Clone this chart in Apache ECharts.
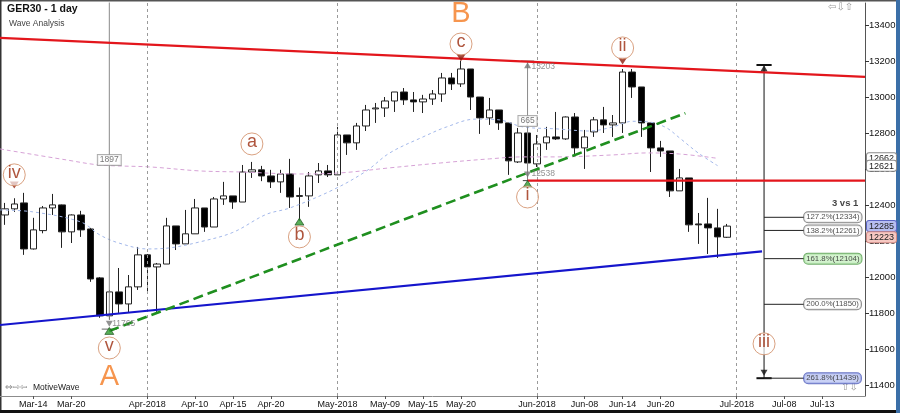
<!DOCTYPE html>
<html><head><meta charset="utf-8">
<script src="https://cdn.jsdelivr.net/npm/echarts@6/dist/echarts.min.js"></script>
<style>html,body{margin:0;padding:0;background:#fff}#c{width:900px;height:413px}</style>
</head><body><div id="c"></div>
<script>
// ---------- categories (trading days) ----------
const dates = ['03-09','03-12','03-13','03-14','03-15','03-16','03-19','03-20','03-21','03-22','03-23','03-26','03-27','03-28','03-29',
'04-03','04-04','04-05','04-06','04-09','04-10','04-11','04-12','04-13','04-16','04-17','04-18','04-19','04-20','04-23','04-24','04-25','04-26','04-27','04-30',
'05-02','05-03','05-04','05-07','05-08','05-09','05-10','05-11','05-14','05-15','05-16','05-17','05-18','05-22','05-23','05-24','05-25','05-28','05-29','05-30','05-31',
'06-01','06-04','06-05','06-06','06-07','06-08','06-11','06-12','06-13','06-14','06-15','06-18','06-19','06-20','06-21','06-22','06-25','06-26','06-27','06-28','06-29',
'07-02','07-03','07-04','07-05','07-06','07-09','07-10','07-11','07-12','07-13','07-16','07-17','07-18','07-19'];
const tickDates = ['03-14','03-20','04-03','04-10','04-16','04-20','05-02','05-09','05-15','05-22','06-01','06-08','06-14','06-20','07-02','07-09','07-13'];
const tickTexts = ['Mar-14','Mar-20','Apr-2018','Apr-10','Apr-15','Apr-20','May-2018','May-09','May-15','May-20','Jun-2018','Jun-08','Jun-14','Jun-20','Jul-2018','Jul-08','Jul-13'];
const monthStartIdx = [15, 35, 56, 77];

// ---------- OHLC ----------
const opens = [12347,12381,12414,12158,12260,12386,12403,12253,12347,12269,11997,11786,11919,11852,11947,12125,12058,12074,12286,12186,12242,12386,12280,12436,12453,12419,12586,12598,12564,12531,12575,12450,12453,12570,12592,12570,12792,12748,12842,12937,12942,12981,13031,12987,12976,12992,13020,13109,13076,13159,13003,12887,12931,12859,12642,12803,12631,12748,12781,12770,12892,12720,12809,12876,12848,12859,13142,13059,12859,12720,12703,12481,12553,12297,12297,12275,12223];
const closes = [12381,12408,12158,12264,12386,12403,12253,12347,12264,11991,11786,11919,11852,11947,12125,12058,12074,12286,12186,12242,12386,12280,12436,12453,12419,12586,12598,12564,12531,12575,12447,12455,12564,12592,12570,12792,12748,12842,12931,12942,12981,13031,12987,12976,12992,13020,13109,13076,13159,13003,12887,12931,12859,12648,12803,12636,12742,12781,12770,12892,12720,12781,12876,12848,12859,13142,13059,12859,12720,12703,12481,12553,12292,12292,12275,12225,12285];
const lows = [12292,12364,12125,12155,12245,12347,12164,12191,12225,11975,11775,11765,11802,11802,11930,11913,11808,12074,12152,12186,12242,12253,12280,12403,12381,12419,12553,12535,12497,12470,12386,12315,12392,12525,12558,12570,12681,12709,12814,12859,12892,12920,12959,12920,12914,12959,12976,13042,13059,12931,12798,12848,12820,12570,12636,12538,12614,12709,12764,12765,12670,12603,12781,12803,12781,12803,12998,12781,12586,12670,12447,12481,12253,12186,12130,12108,12219];
const highs = [12414,12440,12470,12331,12397,12464,12405,12350,12370,12275,12002,11930,12052,12013,12169,12130,12080,12331,12286,12375,12436,12386,12447,12531,12453,12625,12642,12620,12598,12598,12659,12500,12586,12636,12625,12837,12792,12859,12959,12970,13003,13031,13053,13031,13015,13042,13137,13137,13205,13159,13003,12998,12931,12859,12831,12831,12792,12837,12920,12895,12914,12820,12892,12948,12903,13159,13159,13059,12859,12759,12703,12603,12553,12358,12442,12381,12297];

// ---------- moving averages (read points) ----------
const maBlueX = [-0.5,3,8,10,12,15,17.5,20.5,24,27.5,30,34.5,38,40.5,44,46.5,49.5,52,54.5,58,61.5,64,66,67.5,69.5,71,73,75];
const maBlueV = [12375,12364,12308,12236,12191,12158,12165,12197,12250,12350,12386,12486,12590,12692,12781,12837,12880,12876,12837,12826,12814,12837,12868,12866,12835,12775,12690,12621];
const maPinkX = [-0.5,6.5,10,15.3,20.5,24.8,31,35.3,40.5,45.8,51,54.5,58,64,67.5,71,75];
const maPinkV = [12714,12653,12625,12614,12592,12586,12575,12581,12609,12636,12659,12670,12670,12681,12692,12686,12662];

// ---------- axis ticks / tags ----------
const yTicks = [11400,11600,11800,12000,12200,12400,12600,12800,13000,13200,13400];
const tagValues = [12662,12621,12285,12223];
const tagKinds  = ['w','w','b','p'];

// ---------- trendlines ----------
const redTop = [[-0.5,13332],[90.5,13115]];
const redFlat = [[55,12538],[90.5,12538]];
const blueLine = [[-0.5,11735],[79.67,12144]];
const greenLine = [[11,11702],[71.6,12913]];

// ---------- waves ----------
const waveText = ['iv','v','a','b','c','i','ii','iii'];
const waveIdx  = [1,11,26,31,48,55,65,79.88];
const waveVal  = [12570,11607,12742,12225,13298,12447,13276,11630];
const bigText = ['A','B'];
const bigIdx = [11,48];
const bigVal = [11446,13465];
const downMarkIdx = [1,48,65];
const downMarkVal = [12514,13222,13204];
const upMarkIdx = [11,31,55];
const upMarkVal = [11702,12310,12519];

// ---------- measures ----------
const m1Idx = 11, m1Low = 11765, m1Len = 1897;
const m2Idx = 55, m2Low = 12538, m2High = 13203;
const fibIdx = 79.88, fibTop = 13181, fibBottom = 11439;
const fibPct = ['127.2%','138.2%','161.8%','200.0%','261.8%'];
const fibVal = [12334,12261,12104,11850,11439];
const fibBoxIdx = 84.1;

const FONT = "'Liberation Sans', Arial, sans-serif";
const Y_MIN = 11340, Y_MAX = 13526;

function seg(pts, color, width, type, z) {
  return {type:'line', xAxisIndex:1, yAxisIndex:0, data:pts, symbol:'none', silent:true,
    animation:false, lineStyle:{color:color, width:width, type:type||'solid', cap:'butt'}, z:z||4};
}

const series = [];
series.push({
  type:'candlestick', xAxisIndex:0, yAxisIndex:0, barWidth:7, z:2, animation:false,
  data: opens.map((o,i)=>[o, closes[i], lows[i], highs[i]]),
  itemStyle:{color:'#ffffff', color0:'#000000', borderColor:'#222', borderColor0:'#222', borderWidth:1}
});
series.push(Object.assign(seg(maBlueX.map((x,i)=>[x,maBlueV[i]]), '#a3b8ea', 1, [3,3], 3), {smooth:0.35}));
series.push(Object.assign(seg(maPinkX.map((x,i)=>[x,maPinkV[i]]), '#d6a2d6', 1, [4,3], 3), {smooth:0.35}));

const month = seg(redTop, '#e3161c', 2.2, 'solid', 5);
month.markLine = {symbol:'none', silent:true, animation:false, label:{show:false},
  lineStyle:{type:[3,3], color:'#9a9a9a', width:1}, data: monthStartIdx.map(i=>({xAxis:i}))};
series.push(month);
series.push(seg(redFlat, '#e3161c', 2.2, 'solid', 5));
series.push(seg(blueLine, '#1515cc', 2.2, 'solid', 5));
series.push(seg(greenLine, '#1f8f1f', 2.6, [10,5], 5));

// measure 1
series.push(seg([[m1Idx, m1Low], [m1Idx, m1Low + m1Len]], '#8a8a8a', 1, 'solid', 3));
series.push(seg([[m1Idx-0.8, 11712], [m1Idx+0.8, 11712]], '#666', 1, 'solid', 4));
// measure 2
series.push(seg([[m2Idx, m2Low], [m2Idx, m2High]], '#8a8a8a', 1, 'solid', 3));
series.push(seg([[m2Idx-0.7, m2High], [m2Idx+0.7, m2High]], '#666', 1, 'solid', 4));
series.push(seg([[m2Idx-0.5, m2Low], [m2Idx+0.5, m2Low]], '#444', 1, 'solid', 4));
// fib measure
series.push(seg([[fibIdx, fibBottom], [fibIdx, fibTop]], '#111', 1, 'solid', 4));
series.push(seg([[fibIdx-0.8, fibTop], [fibIdx+0.8, fibTop]], '#111', 2, 'solid', 4));
series.push(seg([[fibIdx-0.8, fibBottom], [fibIdx+0.8, fibBottom]], '#111', 2, 'solid', 4));
fibVal.forEach(v => series.push(seg([[fibIdx, v], [fibBoxIdx, v]], '#222', 1, 'solid', 4)));

// fib boxes
const fibStyles = {
  '161.8%': {bg:'#c8f0c2', bd:'#4f9a46'},
  '261.8%': {bg:'#bcc6f2', bd:'#4250b5'}
};
series.push({
  type:'scatter', xAxisIndex:1, yAxisIndex:0, symbolSize:0, silent:true, animation:false, z:6,
  data: fibVal.map((v,i)=>{
    const st = fibStyles[fibPct[i]] || {bg:'#ffffff', bd:'#666'};
    return {value:[fibBoxIdx, v], label:{backgroundColor:st.bg, borderColor:st.bd}, name: fibPct[i] + '(' + v + ')'};
  }),
  label:{show:true, position:'right', distance:0, formatter:p=>p.name, fontFamily:FONT, fontSize:7.8,
    color:'#222', borderWidth:1, borderRadius:4, padding:[1,2,1,2]}
});

// small gray texts
series.push({
  type:'scatter', xAxisIndex:1, yAxisIndex:0, symbolSize:0, silent:true, animation:false, z:6,
  data:[{value:[m1Idx+0.2, 11741], name:String(m1Low)},
        {value:[m2Idx+0.3, 13170], name:String(m2High)},
        {value:[m2Idx+0.3, 12578], name:String(m2Low)}],
  label:{show:true, position:'right', distance:1, formatter:p=>p.name, fontFamily:FONT, fontSize:8.5, color:'#777'}
});
// boxed measure labels
series.push({
  type:'scatter', xAxisIndex:1, yAxisIndex:0, symbolSize:0, silent:true, animation:false, z:6,
  data:[{value:[m1Idx, 12653], name:String(m1Len)}, {value:[m2Idx, 12870], name:String(m2High - m2Low)}],
  label:{show:true, position:'inside', formatter:p=>p.name, fontFamily:FONT, fontSize:8.5, color:'#555',
    backgroundColor:'#fff', borderColor:'#999', borderWidth:1, padding:[1,2,0,2]}
});
// measure arrows
series.push({
  type:'scatter', xAxisIndex:1, yAxisIndex:0, symbol:'triangle', symbolSize:[7,6], silent:true, animation:false, z:6,
  data:[{value:[m1Idx, 11742], symbolRotate:180, itemStyle:{color:'#777'}},
        {value:[m2Idx, 13180], itemStyle:{color:'#777'}},
        {value:[m2Idx, 12572], symbolRotate:180, itemStyle:{color:'#777'}},
        {value:[fibIdx, 13163], itemStyle:{color:'#111'}},
        {value:[fibIdx, 11470], symbolRotate:180, itemStyle:{color:'#111'}}]
});
// wave markers
series.push({
  type:'scatter', xAxisIndex:1, yAxisIndex:0, symbol:'triangle', symbolSize:[9,7], symbolRotate:180, silent:true, animation:false, z:7,
  itemStyle:{color:'#8e1b0b'}, data: downMarkIdx.map((x,i)=>[x, downMarkVal[i]])
});
series.push({
  type:'scatter', xAxisIndex:1, yAxisIndex:0, symbol:'triangle', symbolSize:[9,7], silent:true, animation:false, z:7,
  itemStyle:{color:'#2e9a2e', borderColor:'#1a4a1a', borderWidth:0.8}, data: upMarkIdx.map((x,i)=>[x, upMarkVal[i]])
});
// wave circles
series.push({
  type:'scatter', xAxisIndex:1, yAxisIndex:0, symbol:'circle', symbolSize:22, silent:true, animation:false, z:7,
  itemStyle:{color:'rgba(255,255,255,0.85)', borderColor:'#cf8a62', borderWidth:1},
  data: waveIdx.map((x,i)=>({value:[x, waveVal[i]], name:waveText[i]})),
  label:{show:true, position:'inside', formatter:p=>p.name, fontFamily:FONT, fontSize:18, color:'#9b2a0c', offset:[0,-2]}
});
// big letters
series.push({
  type:'scatter', xAxisIndex:1, yAxisIndex:0, symbolSize:0, silent:true, animation:false, z:7,
  data: bigIdx.map((x,i)=>({value:[x, bigVal[i]], name:bigText[i]})),
  label:{show:true, position:'inside', formatter:p=>p.name, fontFamily:FONT, fontSize:29, color:'#f47b22'}
});
// 3 vs 1
series.push({
  type:'scatter', xAxisIndex:1, yAxisIndex:0, symbolSize:0, silent:true, animation:false, z:7,
  data:[{value:[89.8, 12410], name:'3 vs 1'}],
  label:{show:true, position:'left', distance:0, formatter:p=>p.name, fontFamily:FONT, fontSize:9.5, fontWeight:'bold', color:'#111'}
});

const tagRich = {
  w:{backgroundColor:'#fff', borderColor:'#8a8a8a', borderWidth:1, padding:[1,2,0,2], borderRadius:2, fontSize:9, color:'#222', fontFamily:FONT},
  b:{backgroundColor:'#b7bef0', borderColor:'#5c66c6', borderWidth:1, padding:[1,2,0,2], borderRadius:2, fontSize:9, color:'#222', fontFamily:FONT},
  p:{backgroundColor:'#f6c8c2', borderColor:'#d08a84', borderWidth:1, padding:[1,2,0,2], borderRadius:2, fontSize:9, color:'#222', fontFamily:FONT}
};

const yAxes = [
  {type:'value', position:'right', min:Y_MIN, max:Y_MAX, scale:true,
    axisLine:{show:true, onZero:false, lineStyle:{color:'#555'}},
    axisTick:{show:true, length:4, customValues:yTicks, lineStyle:{color:'#333'}},
    axisLabel:{show:true, customValues:yTicks, hideOverlap:false, formatter:v=>String(v), fontFamily:FONT, fontSize:9.5, color:'#111', margin:4},
    splitLine:{show:false}}
];
tagValues.forEach((tv, i) => {
  yAxes.push({type:'value', position:'right', min:Y_MIN, max:Y_MAX, scale:true, z:5+i,
    axisLine:{show:false, onZero:false}, axisTick:{show:false}, splitLine:{show:false},
    axisLabel:{show:true, customValues:[tv], hideOverlap:false, margin:2,
      formatter:v=>'{' + tagKinds[i] + '|' + v + '}', rich:tagRich}});
});

const option = {
  animation:false,
  backgroundColor:'#fff',
  grid:{left:0, right:35, top:3, bottom:17, containLabel:false, outerBoundsMode:'none'},
  xAxis:[
    {type:'category', data:dates, boundaryGap:true,
      axisLine:{show:true, onZero:false, lineStyle:{color:'#8c8c8c', width:1}},
      axisTick:{show:true, alignWithLabel:true, length:3, interval:(i,v)=>tickDates.indexOf(v)>=0, lineStyle:{color:'#555'}},
      axisLabel:{show:true, interval:(i,v)=>tickDates.indexOf(v)>=0, formatter:v=>tickTexts[tickDates.indexOf(v)],
        fontFamily:FONT, fontSize:9, color:'#111', margin:4, hideOverlap:false},
      splitLine:{show:false}},
    {type:'value', min:-0.5, max:90.5, show:false, splitLine:{show:false}, axisLine:{onZero:false}}
  ],
  yAxis: yAxes,
  series: series,
  graphic:[
    {type:'text', left:7, top:4, style:{text:'GER30 - 1 day', font:"bold 10.5px 'Liberation Sans', Arial, sans-serif", fill:'#111'}},
    {type:'text', left:9, top:19, style:{text:'Wave Analysis', font:"8.5px 'Liberation Sans', Arial, sans-serif", fill:'#444'}},
    {type:'text', left:828, top:2, style:{text:'\u21E6\u21E9\u21E7', font:"10px 'DejaVu Sans', sans-serif", fill:'#9a9a9a'}},
    {type:'text', left:5, top:383, style:{text:'\u21D4\u21E8\u21E6', font:"9px 'DejaVu Sans', sans-serif", fill:'#888'}},
    {type:'text', left:33, top:383, style:{text:'MotiveWave', font:"8.5px 'Liberation Sans', Arial, sans-serif", fill:'#222'}},
    {type:'text', left:841, top:382, style:{text:'\u21E7\u21E9', font:"10px 'DejaVu Sans', sans-serif", fill:'#9a9a9a'}},
    {type:'rect', left:0, top:0, shape:{width:900, height:1.5}, style:{fill:'#555'}},
    {type:'rect', left:0, top:0, shape:{width:1.5, height:413}, style:{fill:'#333'}},
    {type:'rect', left:0, top:410, shape:{width:900, height:3}, style:{fill:'#111'}},
    {type:'rect', left:896, top:0, shape:{width:4, height:413}, style:{fill:'#3b6fa8'}}
  ]
};
const chart = echarts.init(document.getElementById('c'), null, {renderer:'canvas'});
chart.setOption(option);
</script></body></html>
